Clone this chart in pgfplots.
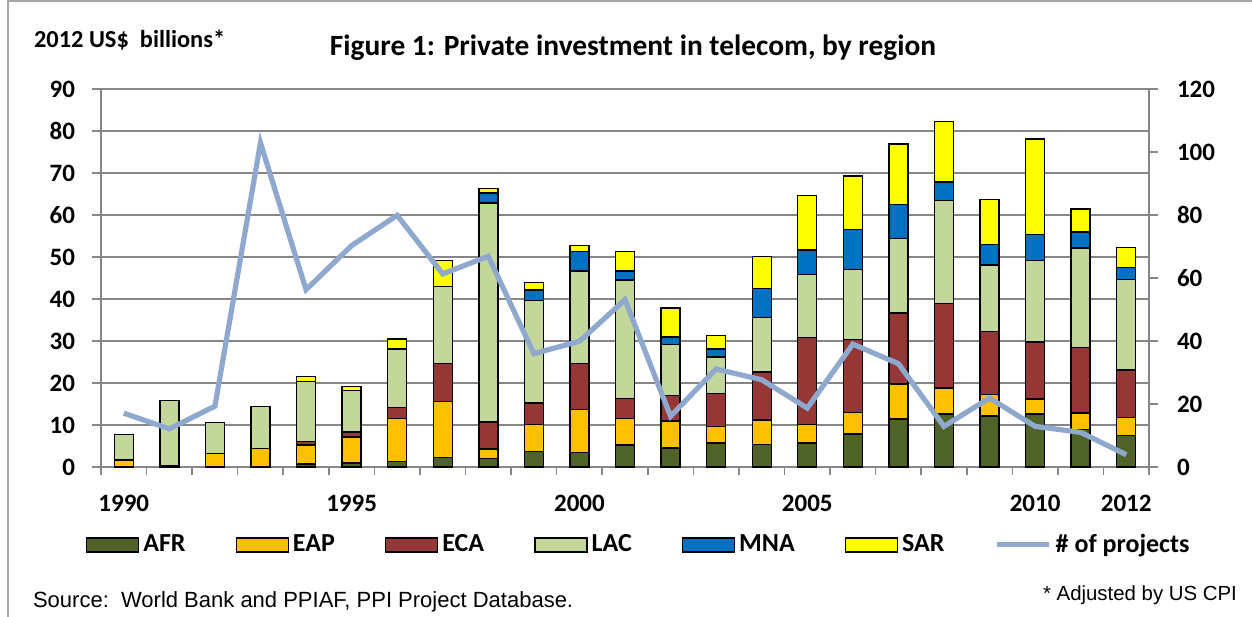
\documentclass[border=0pt]{standalone}
\usepackage{fontspec}
\setmainfont{Carlito}
\newfontfamily\arial{Liberation Sans}
\usepackage{pgfplots}
\usepackage{pgfplotstable}
\pgfplotsset{compat=1.18}

\definecolor{cAFR}{RGB}{79,98,40}
\definecolor{cEAP}{RGB}{255,192,0}
\definecolor{cECA}{RGB}{149,55,53}
\definecolor{cLAC}{RGB}{196,215,155}
\definecolor{cMNA}{RGB}{0,112,192}
\definecolor{cSAR}{RGB}{255,255,0}
\definecolor{cLine}{RGB}{143,169,206}
\definecolor{cGrid}{RGB}{134,134,134}

% US$ billions (2012) by region, and number of projects
\pgfplotstableread{
year AFR  EAP  ECA  LAC  MNA SAR  proj
1990 0.0  1.7  0.0  6.1  0.0 0.0  17.1
1991 0.0  0.3  0.0  15.5 0.0 0.0  12.1
1992 0.0  3.2  0.0  7.4  0.0 0.0  19.3
1993 0.0  4.4  0.0  10.0 0.0 0.0  102.9
1994 0.7  4.5  0.9  14.3 0.0 1.2  56.3
1995 1.0  6.1  1.2  9.9  0.0 1.0  70.3
1996 1.3  10.2 2.7  13.9 0.0 2.4  79.9
1997 2.3  13.3 9.1  18.3 0.0 6.1  61.3
1998 2.0  2.3  6.4  52.2 2.3 1.1  66.9
1999 3.7  6.4  5.1  24.4 2.5 1.9  36.0
2000 3.5  10.2 11.0 22.0 4.6 1.5  39.9
2001 5.2  6.3  4.8  28.2 2.2 4.6  53.1
2002 4.5  6.5  6.0  12.2 1.8 6.9  16.1
2003 5.7  3.9  7.9  8.7  1.9 3.2  31.1
2004 5.4  5.8  11.4 13.0 6.9 7.6  27.7
2005 5.7  4.4  20.7 15.0 5.9 12.9 18.7
2006 7.9  5.1  17.3 16.7 9.5 12.8 39.0
2007 11.4 8.4  16.9 17.7 8.1 14.4 32.8
2008 12.6 6.2  20.1 24.6 4.4 14.4 12.9
2009 12.1 5.2  14.9 15.9 4.9 10.7 21.9
2010 12.6 3.6  13.6 19.3 6.2 22.8 12.9
2011 9.0  3.9  15.5 23.7 3.9 5.4  11.0
2012 7.5  4.3  11.3 21.5 2.9 4.8  3.9
}\datatable

\pgfplotsset{
  common/.style={
    at={(50.5pt,74.5pt)}, anchor=south west, scale only axis,
    width=524pt, height=189pt,
    xmin=1989.5, xmax=2012.5,
    axis line style={cGrid, line width=0.8pt},
    tick style={cGrid, line width=0.8pt},
    tick align=outside,
    major tick length=4.5pt, minor tick length=4pt,
    /pgf/number format/assume math mode=true,
    ticklabel style={font=\bfseries\fontsize{12.5}{14}\selectfont},
  },
  barbox/.style={fill=#1, draw=black, line width=0.7pt},
  boxleg/.style={legend image code/.code={\draw[##1] (0pt,-3.5pt) rectangle (26pt,3.5pt);}},
  lineleg/.style={legend image code/.code={\draw[##1] (0pt,0pt) -- (26pt,0pt);}},
}

\begin{document}
\begin{tikzpicture}[x=1pt,y=1pt]
\useasboundingbox (0,0) rectangle (626,308);
\draw[gray!70, line width=1pt] (4,-5) -- (4,307.5) -- (640,307.5);

\node[anchor=west, font=\bfseries\fontsize{12.2}{14}\selectfont] at (13.5,288) {2012 US\$\ \ billions*};
\node[font=\bfseries\fontsize{14.7}{17}\selectfont] at (316.5,284) {Figure 1: Private investment in telecom, by region};
\node[anchor=west, font=\arial\fontsize{11}{13}\selectfont] at (13,7) {Source:\ \ World Bank and PPIAF, PPI Project Database.};
\node[anchor=east, font=\arial\fontsize{10.2}{12}\selectfont] at (622,10.5) {* Adjusted by US CPI};

\begin{axis}[common,
  ybar stacked, bar width=9.5pt,
  ymin=0, ymax=90, ytick={0,10,...,90},
  axis x line*=bottom, axis y line*=left,
  xtick={1990,1995,2000,2005,2010,2012},
  xticklabels={1990,1995,2000,2005,2010,2012},
  major x tick style={draw=none},
  minor xtick={1989.5,1990.5,...,2012.5},
  xticklabel style={yshift=-6pt},
  yticklabel style={xshift=-5pt},
  ymajorgrids, grid style={cGrid, line width=0.8pt},
]
\addplot[barbox=cAFR] table[x=year, y=AFR] {\datatable};
\addplot[barbox=cEAP] table[x=year, y=EAP] {\datatable};
\addplot[barbox=cECA] table[x=year, y=ECA] {\datatable};
\addplot[barbox=cLAC] table[x=year, y=LAC] {\datatable};
\addplot[barbox=cMNA] table[x=year, y=MNA] {\datatable};
\addplot[barbox=cSAR] table[x=year, y=SAR] {\datatable};
\end{axis}

\begin{axis}[common,
  ymin=0, ymax=120, ytick={0,20,...,120},
  axis x line=none, axis y line*=right,
  yticklabel style={xshift=6pt},
  legend columns=7,
  legend style={at={(0.514,-0.206)}, anchor=center, draw=none, fill=none,
    font=\bfseries\fontsize{13}{15}\selectfont,
    nodes={inner xsep=2pt},
    /tikz/every even column/.append style={column sep=23pt}},
]
\addlegendimage{barbox=cAFR, boxleg}
\addlegendentry{AFR}
\addlegendimage{barbox=cEAP, boxleg}
\addlegendentry{EAP}
\addlegendimage{barbox=cECA, boxleg}
\addlegendentry{ECA}
\addlegendimage{barbox=cLAC, boxleg}
\addlegendentry{LAC}
\addlegendimage{barbox=cMNA, boxleg}
\addlegendentry{MNA}
\addlegendimage{barbox=cSAR, boxleg}
\addlegendentry{SAR}
\addplot[cLine, line width=2.6pt, no marks, lineleg]
  table[x=year, y=proj] {\datatable};
\addlegendentry{\# of projects}
\end{axis}
\end{tikzpicture}
\end{document}
